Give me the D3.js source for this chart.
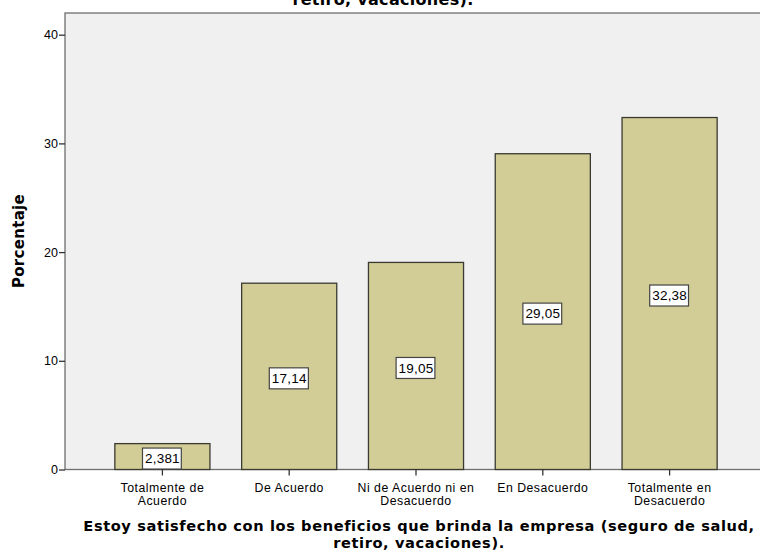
<!DOCTYPE html>
<html>
<head>
<meta charset="utf-8">
<script src="https://cdn.jsdelivr.net/npm/d3@7"></script>
<style>
  html, body { margin: 0; padding: 0; background: #fff; }
  svg { display: block; }
</style>
</head>
<body>
<svg id="chart" width="760" height="559"></svg>
<script>
// Satisfaction with company benefits: percentage per response category
const categories = [
  ["Totalmente de", "Acuerdo"],
  ["De Acuerdo"],
  ["Ni de Acuerdo ni en", "Desacuerdo"],
  ["En Desacuerdo"],
  ["Totalmente en", "Desacuerdo"]
];
const values = [2.381, 17.14, 19.05, 29.05, 32.38];
const valueLabels = ["2,381", "17,14", "19,05", "29,05", "32,38"];
const yTicks = [0, 10, 20, 30, 40];
const titleLines = ["Estoy satisfecho con los beneficios que brinda la empresa (seguro de salud,", "retiro, vacaciones)."];

const svg = d3.select("#chart");

const plot = { left: 65, top: 13, right: 766, bottom: 469.5 };
const sans = "Liberation Sans, Arial, sans-serif";
const boldFont = "DejaVu Sans, Verdana, sans-serif";

const x = d3.scaleBand()
  .domain(d3.range(values.length))
  .range([99, 733])
  .paddingInner(0.25)
  .paddingOuter(0.125);

const y = d3.scaleLinear().domain([0, 40]).range([469.5, 34.7]);

// chart title (only its lower part shows above the frame)
svg.append("text")
  .attr("x", 383).attr("y", 5)
  .attr("text-anchor", "middle")
  .attr("font-family", boldFont)
  .attr("font-weight", "bold")
  .attr("font-size", 16)
  .attr("letter-spacing", 0.3)
  .attr("fill", "#000")
  .text(titleLines[1]);

// plot background
svg.append("rect")
  .attr("x", plot.left).attr("y", plot.top)
  .attr("width", plot.right - plot.left).attr("height", plot.bottom - plot.top)
  .attr("fill", "#f0f0f0")
  .attr("stroke", "#6e6e6e").attr("stroke-width", 1.3);

// bars
svg.append("g").selectAll("rect")
  .data(values)
  .join("rect")
  .attr("x", (d, i) => x(i))
  .attr("y", d => y(d))
  .attr("width", x.bandwidth())
  .attr("height", d => y(0) - y(d))
  .attr("fill", "#d2cd96")
  .attr("stroke", "#3a3a32")
  .attr("stroke-width", 1.3);

// value labels, centred inside each bar
const lab = svg.append("g").selectAll("g")
  .data(values)
  .join("g")
  .attr("transform", (d, i) => `translate(${x(i) + x.bandwidth() / 2},${(y(d) + y(0)) / 2 + 2})`);

lab.append("text")
  .attr("text-anchor", "middle")
  .attr("dy", "0.36em")
  .attr("font-family", sans)
  .attr("font-size", 13.5)
  .attr("letter-spacing", 0.2)
  .attr("fill", "#000")
  .text((d, i) => valueLabels[i])
  .each(function () {
    const b = this.getBBox();
    d3.select(this.parentNode).insert("rect", "text")
      .attr("x", b.x - 2.5).attr("y", -10.5)
      .attr("width", b.width + 4).attr("height", 21)
      .attr("fill", "#fff")
      .attr("stroke", "#444").attr("stroke-width", 1.2);
  });

// y axis
const yAxis = svg.append("g")
  .attr("transform", `translate(${plot.left},0)`)
  .call(d3.axisLeft(y).tickValues(yTicks).tickSize(6).tickPadding(1).tickFormat(d3.format("d")));
yAxis.select(".domain").remove();
yAxis.selectAll("line").attr("stroke", "#333").attr("stroke-width", 1.3);
yAxis.selectAll("text")
  .attr("font-family", sans)
  .attr("font-size", 12.5).attr("fill", "#000");

// x axis
const xAxis = svg.append("g")
  .attr("transform", `translate(0,${plot.bottom})`)
  .call(d3.axisBottom(x).tickSize(6).tickFormat(() => ""));
xAxis.select(".domain").remove();
xAxis.selectAll("line").attr("stroke", "#333").attr("stroke-width", 1.3);
xAxis.selectAll(".tick").each(function (d) {
  const t = d3.select(this).select("text")
    .attr("y", 0).attr("dy", 0)
    .attr("font-family", sans)
    .attr("font-size", 12.3)
    .attr("letter-spacing", 0.5)
    .attr("fill", "#000");
  categories[d].forEach((line, k) => {
    t.append("tspan").attr("x", 0).attr("y", 22.5 + k * 12.5).text(line);
  });
});

// axis titles
svg.append("text")
  .attr("transform", "translate(24,241) rotate(-90)")
  .attr("text-anchor", "middle")
  .attr("font-family", boldFont)
  .attr("font-weight", "bold")
  .attr("font-size", 15)
  .attr("letter-spacing", 0.3)
  .attr("fill", "#000")
  .text("Porcentaje");

svg.append("g").selectAll("text")
  .data(titleLines)
  .join("text")
  .attr("x", 419)
  .attr("y", (d, i) => 531 + i * 16.5)
  .attr("text-anchor", "middle")
  .attr("font-family", boldFont)
  .attr("font-weight", "bold")
  .attr("font-size", 14.6)
  .attr("letter-spacing", 0.6)
  .attr("fill", "#000")
  .text(d => d);
</script>
</body>
</html>
